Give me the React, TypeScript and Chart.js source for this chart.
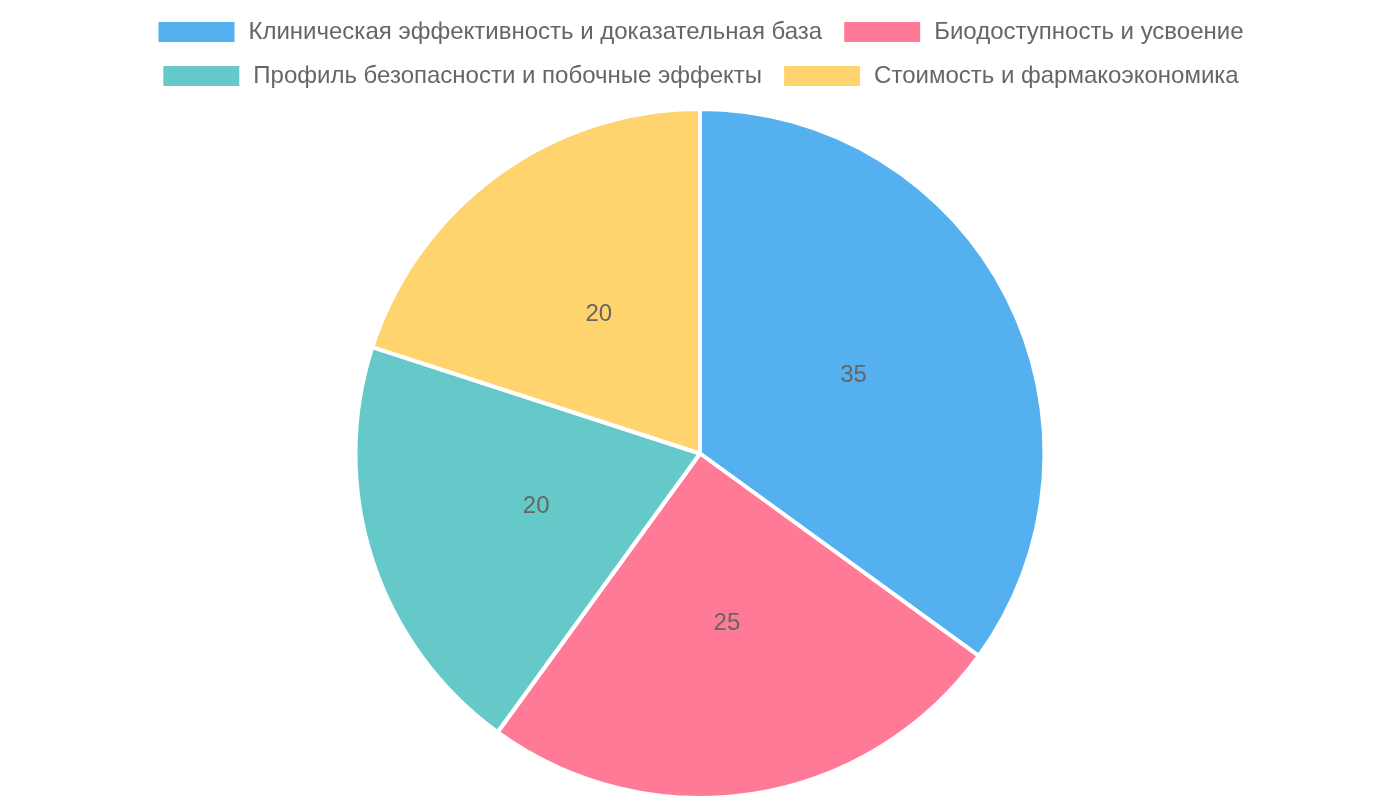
import React, { useEffect, useRef } from "react";
import { Chart, registerables } from "chart.js";

Chart.register(...registerables);

const categories = [
  "Клиническая эффективность и доказательная база",
  "Биодоступность и усвоение",
  "Профиль безопасности и побочные эффекты",
  "Стоимость и фармакоэкономика",
];
const values = [35, 25, 20, 20];
const colors = [
  "rgba(54, 162, 235, 0.85)",
  "rgba(255, 99, 132, 0.85)",
  "rgba(75, 192, 192, 0.85)",
  "rgba(255, 205, 86, 0.85)",
];

const legendGap = {
  id: "legendGap",
  beforeInit(chart: any) {
    const legend = chart.legend;
    if (!legend) return;
    const origFit = legend.fit;
    legend.fit = function () {
      origFit.call(this);
      this.height += 9;
    };
  },
};

const valueLabels = {
  id: "valueLabels",
  afterDatasetsDraw(chart: any) {
    const ctx = chart.ctx;
    const meta = chart.getDatasetMeta(0);
    ctx.save();
    ctx.font = "24px 'Helvetica Neue', 'Helvetica', 'Arial', sans-serif";
    ctx.fillStyle = "#666";
    ctx.textAlign = "center";
    ctx.textBaseline = "middle";
    meta.data.forEach((arc: any, i: number) => {
      const { x, y, startAngle, endAngle, outerRadius } = arc.getProps(
        ["x", "y", "startAngle", "endAngle", "outerRadius"],
        true
      );
      const mid = (startAngle + endAngle) / 2;
      const r = outerRadius / 2;
      ctx.fillText(String(chart.data.datasets[0].data[i]), x + Math.cos(mid) * r, y + Math.sin(mid) * r);
    });
    ctx.restore();
  },
};

export default function App() {
  const ref = useRef<HTMLCanvasElement>(null);
  useEffect(() => {
    const chart = new Chart(ref.current!, {
      type: "pie",
      data: {
        labels: categories,
        datasets: [
          {
            data: values,
            backgroundColor: colors,
            borderColor: "#fff",
            borderWidth: 4,
          },
        ],
      },
      options: {
        animation: false,
        responsive: true,
        maintainAspectRatio: false,
        plugins: {
          legend: {
            position: "top",
            labels: {
              font: { size: 24 },
              color: "#666",
              boxWidth: 80,
              padding: 20,
            },
          },
          tooltip: { enabled: false },
        },
      },
      plugins: [legendGap, valueLabels],
    });
    return () => chart.destroy();
  }, []);
  return (
    <div style={{ position: "absolute", left: 0, top: 0, width: "1400px", height: "800px" }}>
      <canvas ref={ref} />
    </div>
  );
}
